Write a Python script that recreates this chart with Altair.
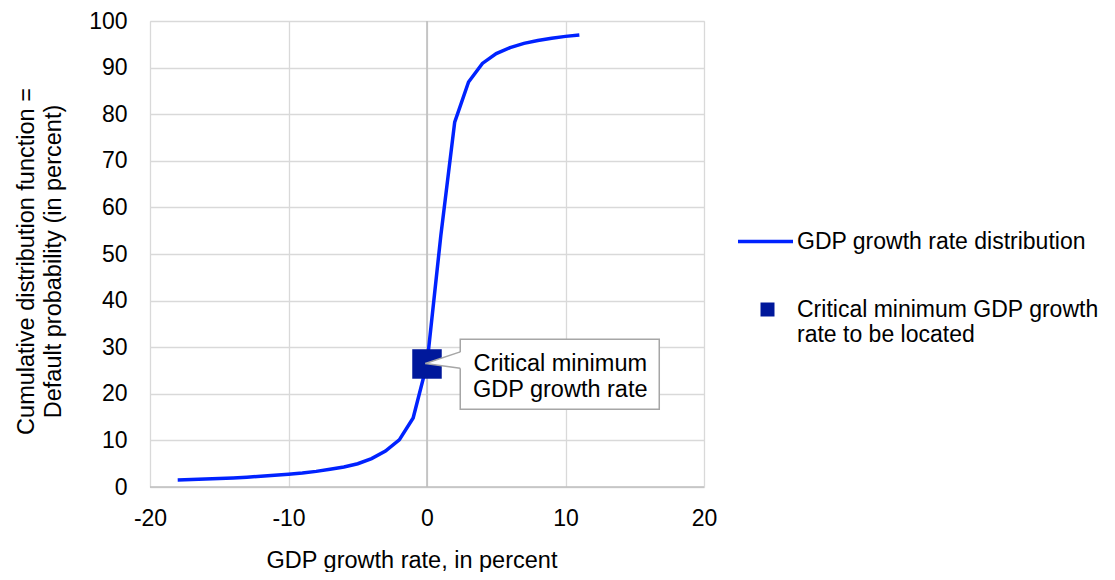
import altair as alt
import pandas as pd

# ---- data ----
gdp_growth = [-18, -17, -16, -15, -14, -13, -12, -11, -10, -9, -8, -7, -6, -5, -4,
              -3, -2, -1, 0, 1, 2, 3, 4, 5, 6, 7, 8, 9, 10, 11]
cdf_percent = [1.5, 1.6, 1.7, 1.8, 1.95, 2.1, 2.3, 2.5, 2.75, 3.0, 3.35, 3.8, 4.3, 5.0, 6.1,
               7.7, 10.1, 14.8, 26.4, 54.0, 78.3, 86.9, 90.9, 93.0, 94.3, 95.2, 95.8, 96.3, 96.7, 97.0]
series_name = "GDP growth rate distribution"

critical_x = [0]
critical_y = [26.4]
marker_name = "Critical minimum GDP growth rate to be located"
marker_label_lines = ["Critical minimum GDP growth", "rate to be located"]

x_ticks = [-20, -10, 0, 10, 20]
y_ticks = [0, 10, 20, 30, 40, 50, 60, 70, 80, 90, 100]

callout_lines = ["Critical minimum", "GDP growth rate"]

FONT = "Liberation Sans"
FS = 23
LINE_BLUE = "#0022FF"
NAVY = "#00189B"
GRID = "#D9D9D9"
AXIS_GREY = "#BFBFBF"
CALLOUT_GREY = "#A6A6A6"

curve_df = pd.DataFrame({"gdp": gdp_growth, "cdf": cdf_percent, "series": series_name})
marker_df = pd.DataFrame({"gdp": critical_x, "cdf": critical_y, "marker": marker_name})

x_scale = alt.Scale(domain=[-20, 20], nice=False, zero=False)
y_scale = alt.Scale(domain=[0, 100], nice=False)

x_axis = alt.Axis(values=x_ticks, title="GDP growth rate, in percent", domain=False, ticks=False,
                  grid=True, gridColor=GRID, gridWidth=1.3, labelPadding=20, labelFlush=False,
                  labelExpr="datum.value + ''",
                  labelFont=FONT, labelFontSize=FS, labelColor="black",
                  titleFont=FONT, titleFontSize=23.5, titleFontWeight="normal", titleColor="black",
                  titleX=261.5, titleY=80, titleBaseline="alphabetic", titleAlign="center")
y_axis = alt.Axis(values=y_ticks, title=["Cumulative distribution function =",
                                         "Default probability (in percent)"],
                  domain=False, ticks=False, grid=True, gridColor=GRID, gridWidth=1.3,
                  labelPadding=23, labelFlush=False, labelFont=FONT, labelFontSize=FS,
                  labelColor="black", labelExpr="datum.value + ''",
                  titleFont=FONT, titleFontSize=23.5, titleFontWeight="normal", titleColor="black",
                  titleAngle=270, titleX=-117, titleY=240, titleBaseline="alphabetic",
                  titleAlign="center", titleLineHeight=27)

one = pd.DataFrame({"k": [0]})

zero_v = alt.Chart(one).mark_rule(color=AXIS_GREY, strokeWidth=1.6).encode(
    x=alt.datum(0, scale=x_scale, axis=x_axis))
zero_h = alt.Chart(one).mark_rule(color=AXIS_GREY, strokeWidth=1.6).encode(
    y=alt.datum(0, scale=y_scale, axis=y_axis))

curve = alt.Chart(curve_df).mark_line(strokeWidth=3.5).encode(
    x=alt.X("gdp:Q", scale=x_scale, axis=x_axis),
    y=alt.Y("cdf:Q", scale=y_scale, axis=y_axis),
    color=alt.Color("series:N", scale=alt.Scale(domain=[series_name], range=[LINE_BLUE]),
                    legend=alt.Legend(orient="none", legendX=586, legendY=191, title=None,
                                      symbolType="stroke", symbolSize=3025, symbolStrokeWidth=3.5,
                                      labelFont=FONT, labelFontSize=FS, labelColor="black",
                                      labelOffset=2, labelLimit=500, padding=0)),
)

label_expr = "[" + ", ".join("'" + s + "'" for s in marker_label_lines) + "]"

marker = alt.Chart(marker_df).mark_point(filled=True, size=870, opacity=1, strokeWidth=0).encode(
    x=alt.X("gdp:Q", scale=x_scale),
    y=alt.Y("cdf:Q", scale=y_scale),
    shape=alt.Shape("marker:N", scale=alt.Scale(domain=[marker_name], range=["square"]),
                    legend=alt.Legend(orient="none", legendX=606, legendY=277, title=None,
                                      symbolSize=196, symbolFillColor=NAVY, symbolStrokeWidth=0,
                                      labelFont=FONT, labelFontSize=FS, labelColor="black",
                                      labelBaseline="middle",
                                      labelOffset=18, labelLimit=500, padding=0,
                                      labelExpr=label_expr)),
    fill=alt.value(NAVY),
)

# callout box (data coordinates)
box_df = pd.DataFrame({"x1": [2.4], "x2": [16.77], "y1": [31.7], "y2": [16.67]})
box = alt.Chart(box_df).mark_rect(fill="white", stroke=CALLOUT_GREY, strokeWidth=1.5).encode(
    x="x1:Q", x2="x2:Q", y="y1:Q", y2="y2:Q")

pointer_fill_df = pd.DataFrame({"x": [-0.12, 2.5], "lo": [26.5, 25.45], "hi": [26.5, 29.05]})
pointer_fill = alt.Chart(pointer_fill_df).mark_area(color="white", opacity=1).encode(
    x="x:Q", y="hi:Q", y2="lo:Q")

pointer_edges_df = pd.DataFrame({"x": [-0.12, 2.4, -0.12, 2.4],
                                 "y": [26.5, 29.0, 26.5, 25.5],
                                 "edge": ["a", "a", "b", "b"]})
pointer_edges = alt.Chart(pointer_edges_df).mark_line(color=CALLOUT_GREY, strokeWidth=1.5).encode(
    x="x:Q", y="y:Q", detail="edge:N")

text_df = pd.DataFrame({"x": [9.62], "y": [25.0]})
callout_text = alt.Chart(text_df).mark_text(font=FONT, fontSize=23.5, color="black", align="center",
                                            baseline="alphabetic", lineHeight=26).encode(
    x="x:Q", y="y:Q", text=alt.value(callout_lines))

chart = alt.layer(zero_v, zero_h, curve, marker, box, pointer_fill, pointer_edges, callout_text).resolve_legend(
    color="independent", shape="independent"
).properties(
    width=554, height=466,
    autosize=alt.AutoSizeParams(type="none"),
    padding={"left": 142, "top": 13, "right": 403, "bottom": 85},
).configure_view(stroke=None).configure(background="white")

chart.save("out.html", embed_options={"renderer": "svg", "actions": False})
